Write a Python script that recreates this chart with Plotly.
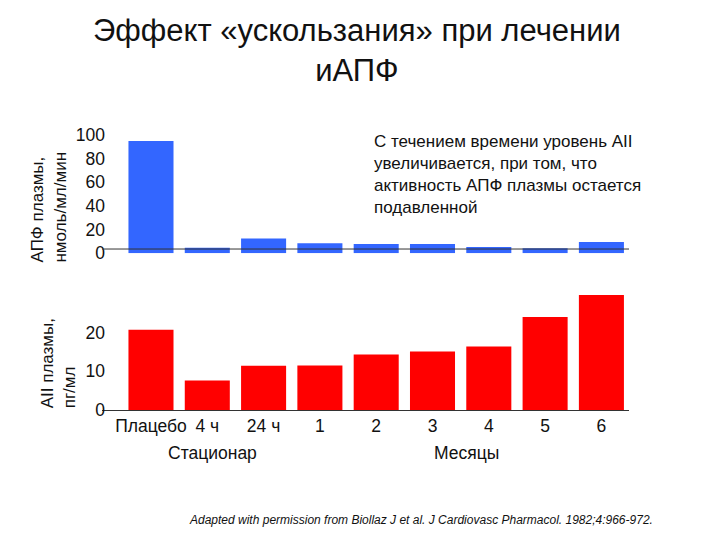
import plotly.graph_objects as go

categories = ["Плацебо", "4 ч", "24 ч", "1", "2", "3", "4", "5", "6"]
ace_activity = [95, 4.5, 12.4, 8.4, 7.8, 7.8, 5.3, 4.2, 9.5]
angiotensin_ii = [20.7, 7.6, 11.4, 11.5, 14.3, 15.1, 16.4, 24.0, 29.7]
ace_ticks = [0, 20, 40, 60, 80, 100]
aii_ticks = [0, 10, 20]

FONT = "Liberation Sans, Arial, sans-serif"
W, H = 720, 540
OFF = 8  # page body margin
HV = 530  # effective drawn paper height

def px(x):
    return (x - OFF) / W

def py(y):
    return 1 - (y - OFF) / HV

TXT = 17.5

fig = go.Figure()
fig.add_trace(go.Bar(x=categories, y=ace_activity, marker_color="#3366ff",
                     marker_line_width=0, width=0.8, xaxis="x", yaxis="y",
                     showlegend=False))
fig.add_trace(go.Bar(x=categories, y=angiotensin_ii, marker_color="#ff0000",
                     marker_line_width=0, width=0.8, xaxis="x2", yaxis="y2",
                     showlegend=False))

xdom = [px(102), px(629)]
xr = [-0.87, 8.49]
fig.update_layout(
    width=W, height=H,
    margin=dict(l=0, r=0, t=0, b=0),
    paper_bgcolor="white", plot_bgcolor="white",
    font=dict(family=FONT, size=TXT, color="#111111"),
    xaxis=dict(domain=xdom, range=xr, type="category", showticklabels=False,
               showgrid=False, zeroline=False, showline=False, anchor="y"),
    yaxis=dict(domain=[py(251), py(126)], range=[0, 105], tickvals=ace_ticks,
               showgrid=False, zeroline=False, showline=False, ticks="",
               ticklabelstandoff=-4, tickfont=dict(size=TXT), anchor="x"),
    xaxis2=dict(domain=xdom, range=xr, type="category", showgrid=False,
                zeroline=False, showline=True, linecolor="#333333", linewidth=1,
                ticks="", ticklabelstandoff=0, tickfont=dict(size=TXT), anchor="y2"),
    yaxis2=dict(domain=[py(409), py(288)], range=[0, 31], tickvals=aii_ticks,
                showgrid=False, zeroline=False, showline=False, ticks="",
                ticklabelstandoff=-4, tickfont=dict(size=TXT), anchor="x2"),
    bargap=0.2,
)

# baseline of the upper chart
fig.add_shape(type="line", xref="x domain", yref="y", x0=0, x1=1, y0=3.5, y1=3.5,
              line=dict(color="#333333", width=1))

ann = []
ann.append(dict(text="Эффект «ускользания» при лечении<br>иАПФ", x=px(357), y=py(47),
                xref="paper", yref="paper", showarrow=False, font=dict(size=31),
                xanchor="center", yanchor="middle"))
ann.append(dict(text="С течением времени уровень AII<br>увеличивается, при том, что<br>"
                     "активность АПФ плазмы остается<br>подавленной",
                x=px(372), y=py(127), xref="paper", yref="paper", showarrow=False,
                align="left", xanchor="left", yanchor="top", font=dict(size=17)))
ann.append(dict(text="АПФ плазмы,<br>нмоль/мл/мин", x=px(49), y=py(205),
                xref="paper", yref="paper", showarrow=False, textangle=-90,
                align="left", xanchor="center", yanchor="middle", font=dict(size=17)))
ann.append(dict(text="AII плазмы,<br>пг/мл", x=px(58), y=py(362),
                xref="paper", yref="paper", showarrow=False, textangle=-90,
                align="left", xanchor="center", yanchor="middle", font=dict(size=17)))
ann.append(dict(text="Стационар", x=px(212), y=py(452), xref="paper", yref="paper",
                showarrow=False, font=dict(size=TXT), xanchor="center", yanchor="middle"))
ann.append(dict(text="Месяцы", x=px(467), y=py(452), xref="paper", yref="paper",
                showarrow=False, font=dict(size=TXT), xanchor="center", yanchor="middle"))
ann.append(dict(text="<i>Adapted with permission from Biollaz J et al. J Cardiovasc Pharmacol. 1982;4:966-972.</i>",
                x=px(187), y=py(520), xref="paper", yref="paper", showarrow=False,
                font=dict(size=12), xanchor="left", yanchor="middle"))
fig.update_layout(annotations=ann)

fig.write_html("out.html")
